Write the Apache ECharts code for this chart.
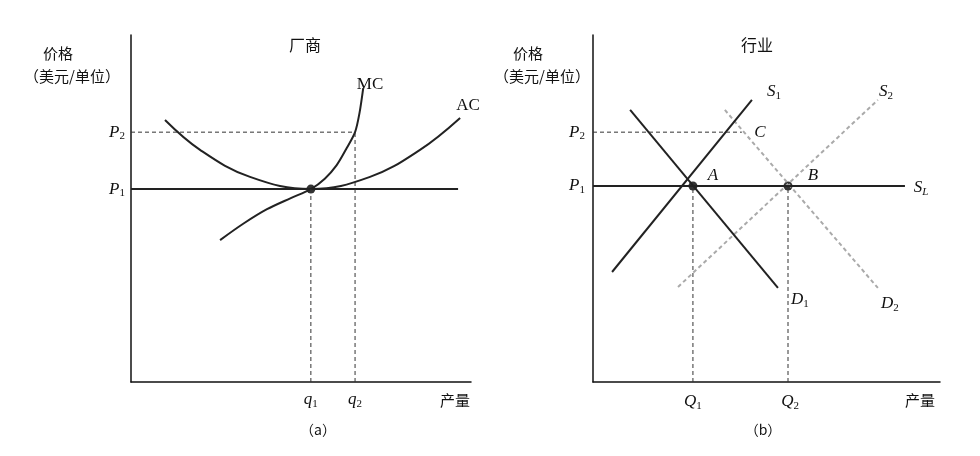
<!DOCTYPE html>
<html><head><meta charset="utf-8">
<script src="https://cdn.jsdelivr.net/npm/echarts@6/dist/echarts.min.js"></script>
<style>html,body{margin:0;background:#fff}#c{width:980px;height:456px}</style></head>
<body><div id="c"></div>
<script>
// Panel (a) firm
const priceA = {P1: 55.6, P2: 72.0};
const qtyA = {q1: 52.9, q2: 65.9};
const mcCurve = [[26.2,40.9],[33,45.6],[40,49.8],[47,53.0],[52.9,55.6],[57,58.6],[60.5,62.5],[63.5,67.5],[65.9,72.0],[67.2,77.5],[68.3,84.7]];
const acCurve = [[10,75.5],[20.3,66.9],[35,59.1],[52.9,55.6],[70.3,59.1],[85,66.9],[96.8,76.1]];
// Panel (b) industry
const priceB = {P1: 56.5, P2: 72.0};
const qtyB = {Q1: 28.8, Q2: 56.2, C: 42.9};
const s1Line = [[5.5,31.7],[45.8,81.3]];
const d1Line = [[10.7,78.4],[53.3,27.1]];
const s2Line = [[24.5,27.4],[82.1,81.3]];
const d2Line = [[38,78.4],[82.1,27.1]];
const slEnd = 89.9;

const chart = echarts.init(document.getElementById('c'));
const serif = '"Liberation Serif","DejaVu Serif",serif';
const cjk = '"Noto Sans CJK SC",sans-serif';
function axisX(i){return {type:'value',gridIndex:i,min:0,max:100,axisLine:{lineStyle:{color:'#111',width:1.5}},axisTick:{show:false},axisLabel:{show:false},splitLine:{show:false}};}
function axisY(i){return {type:'value',gridIndex:i,min:0,max:100,axisLine:{show:true,lineStyle:{color:'#111',width:1.5}},axisTick:{show:false},axisLabel:{show:false},splitLine:{show:false}};}
function line(i,data,opt){return Object.assign({type:'line',xAxisIndex:i,yAxisIndex:i,data:data,symbol:'none',smooth:false,silent:true,lineStyle:{color:'#222',width:2}},opt||{});}
const dash = {color:'#333',width:1,type:[4,3]};
const grayDash = {color:'#aaa',width:2,type:[4,3]};
const series = [
  line(0,mcCurve,{smooth:0.3}),
  line(0,acCurve,{smooth:0.4}),
  line(0,[[0,priceA.P1],[96.2,priceA.P1]]),
  line(0,[[0,priceA.P2],[qtyA.q2,priceA.P2]],{lineStyle:dash}),
  line(0,[[qtyA.q1,0],[qtyA.q1,priceA.P1]],{lineStyle:dash}),
  line(0,[[qtyA.q2,0],[qtyA.q2,priceA.P2]],{lineStyle:dash}),
  {type:'scatter',xAxisIndex:0,yAxisIndex:0,data:[[qtyA.q1,priceA.P1]],symbolSize:9,itemStyle:{color:'#000'}},
  line(1,s2Line,{lineStyle:grayDash}),
  line(1,d2Line,{lineStyle:grayDash}),
  line(1,s1Line),
  line(1,d1Line),
  line(1,[[0,priceB.P1],[slEnd,priceB.P1]]),
  line(1,[[0,priceB.P2],[qtyB.C,priceB.P2]],{lineStyle:dash}),
  line(1,[[qtyB.Q1,0],[qtyB.Q1,priceB.P1]],{lineStyle:dash}),
  line(1,[[qtyB.Q2,0],[qtyB.Q2,priceB.P1]],{lineStyle:dash}),
  {type:'scatter',xAxisIndex:1,yAxisIndex:1,data:[[qtyB.Q1,priceB.P1],[qtyB.Q2,priceB.P1]],symbolSize:9,itemStyle:{color:'#000'}}
];
chart.setOption({
  animation:false,
  grid:[{left:131,width:340,top:35,height:347},{left:593,width:347,top:35,height:347}],
  xAxis:[axisX(0),axisX(1)], yAxis:[axisY(0),axisY(1)], series:series
});
const rich = {i:{fontFamily:serif,fontStyle:'italic',fontSize:17,fill:'#111'},s:{fontFamily:serif,fontSize:11,fill:'#111',padding:[8,0,0,0]},si:{fontFamily:serif,fontStyle:'italic',fontSize:11,fill:'#111',padding:[8,0,0,0]}};
function sym(x,y,main,sub,align,subItalic){
  return {type:'text',x:x,y:y,style:{text:'{i|'+main+'}'+(sub?('{'+(subItalic?'si':'s')+'|'+sub+'}'):''),rich:rich,align:align||'center',verticalAlign:'middle'}};
}
function txt(x,y,t,size,font){return {type:'text',x:x,y:y,style:{text:t,font:(size||15)+'px '+(font||cjk),fill:'#111',align:'center',verticalAlign:'middle'}};}
const px = (i,x,y)=>chart.convertToPixel({gridIndex:i},[x,y]);
const g = [];
const a1=px(0,0,priceA.P1), a2=px(0,0,priceA.P2);
g.push(sym(a1[0]-14,a1[1],'P','1','center'), sym(a2[0]-14,a2[1],'P','2','center'));
const q1=px(0,qtyA.q1,0), q2=px(0,qtyA.q2,0);
g.push(sym(q1[0],400,'q','1'), sym(q2[0],400,'q','2'));
const b1=px(1,0,priceB.P1), b2=px(1,0,priceB.P2);
g.push(sym(b1[0]-16,b1[1],'P','1'), sym(b2[0]-16,b2[1],'P','2'));
const Q1=px(1,qtyB.Q1,0), Q2=px(1,qtyB.Q2,0);
g.push(sym(Q1[0],402,'Q','1'), sym(Q2[0]+2,402,'Q','2'));
const A=px(1,qtyB.Q1,priceB.P1), B=px(1,qtyB.Q2,priceB.P1), C=px(1,qtyB.C,priceB.P2);
g.push(sym(A[0]+20,A[1]-10,'A'), sym(B[0]+25,B[1]-10,'B'), sym(C[0]+18,C[1],'C'));
const s1e=px(1,s1Line[1][0],s1Line[1][1]), s2e=px(1,s2Line[1][0],s2Line[1][1]);
const d1e=px(1,d1Line[1][0],d1Line[1][1]), d2e=px(1,d2Line[1][0],d2Line[1][1]);
const sle=px(1,slEnd,priceB.P1);
g.push(sym(s1e[0]+22,s1e[1]-8,'S','1'), sym(s2e[0]+8,s2e[1]-8,'S','2'),
       sym(d1e[0]+22,d1e[1]+12,'D','1'), sym(d2e[0]+12,d2e[1]+16,'D','2'),
       sym(sle[0]+16,sle[1]+2,'S','L','center',true));
g.push({type:'text',x:370,y:85,style:{text:'MC',font:'17px '+serif,fill:'#111',align:'center',verticalAlign:'middle'}});
g.push({type:'text',x:468,y:106,style:{text:'AC',font:'17px '+serif,fill:'#111',align:'center',verticalAlign:'middle'}});
g.push(txt(305,45,'厂商',16), txt(757,45,'行业',16));
g.push(txt(58,53,'价格',15), txt(72,76,'（美元/单位）',15));
g.push(txt(528,53,'价格',15), txt(542,76,'（美元/单位）',15));
g.push(txt(455,400,'产量',15), txt(920,400,'产量',15));
g.push(txt(318,430,'（a）',14), txt(763,430,'（b）',14));
chart.setOption({graphic:g});
</script></body></html>
